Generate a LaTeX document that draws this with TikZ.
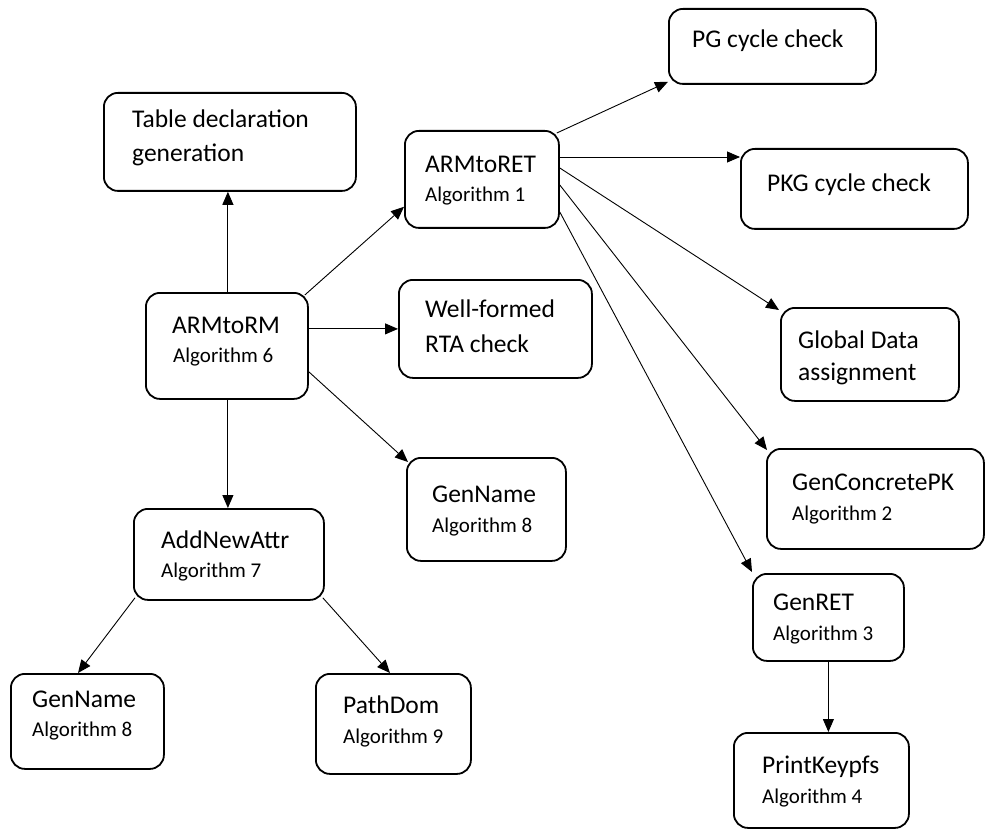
\documentclass[tikz,border=0pt]{standalone}
\usepackage{fontspec}
\setmainfont{Carlito}
\usetikzlibrary{arrows.meta,calc}
\begin{document}
\begin{tikzpicture}[x=1pt,y=-1pt,
  box/.style={draw, line width=1.8pt, rounded corners=14pt, anchor=north west, inner sep=0pt},
  conn/.style={draw, line width=0.9pt, -{Triangle[length=13pt,width=11pt]}},
  big/.style={font=\fontsize{25.5}{30}\selectfont, anchor=base west, inner sep=0pt},
  small/.style={font=\fontsize{21}{25}\selectfont, anchor=base west, inner sep=0pt}]
\useasboundingbox (0,0) rectangle (985,829);

% boxes
\node[box, minimum width=252, minimum height=98]  (table)   at (103,92)  {};
\node[box, minimum width=154, minimum height=97]  (armtoret) at (404,130) {};
\node[box, minimum width=207, minimum height=75]  (pg)      at (668,8)   {};
\node[box, minimum width=227, minimum height=80]  (pkg)     at (740,148) {};
\node[box, minimum width=162, minimum height=106] (armtorm) at (145,292) {};
\node[box, minimum width=193, minimum height=98]  (wf)      at (398,279) {};
\node[box, minimum width=178, minimum height=93]  (glob)    at (780,307) {};
\node[box, minimum width=159, minimum height=103] (gnameA)  at (406,457) {};
\node[box, minimum width=217, minimum height=100] (gcpk)    at (766,448) {};
\node[box, minimum width=190, minimum height=91]  (addnew)  at (133,508) {};
\node[box, minimum width=151, minimum height=87]  (genret)  at (752,573) {};
\node[box, minimum width=153, minimum height=95]  (gnameB)  at (10,673)  {};
\node[box, minimum width=155, minimum height=100] (pathdom) at (315,673) {};
\node[box, minimum width=175, minimum height=95]  (pkeyp)   at (733,732) {};

% labels
\node[big]   (tableA) at (132,128) {Table declaration};
\node[big]   (tableB) at (132,162) {generation};
\node[big]   (retA)   at (425,173) {ARMtoRET};
\node[small] (retB)   at (425,202) {Algorithm 1};
\node[big]   (pgA)    at (692,48)  {PG cycle check};
\node[big]   (pkgA)   at (767,192) {PKG cycle check};
\node[big]   (rmA)    at (172,333) {ARMtoRM};
\node[small] (rmB)    at (173,362) {Algorithm 6};
\node[big]   (wfA)    at (425,317) {Well-formed};
\node[big]   (wfB)    at (425,352) {RTA check};
\node[big]   (globA)  at (798,348) {Global Data};
\node[big]   (globB)  at (798,380) {assignment};
\node[big]   (gnAa)   at (432,502) {GenName};
\node[small] (gnAb)   at (432,532) {Algorithm 8};
\node[big]   (gcA)    at (792,490) {GenConcretePK};
\node[small] (gcB)    at (792,520) {Algorithm 2};
\node[big]   (anA)    at (161,548) {AddNewAttr};
\node[small] (anB)    at (161,577) {Algorithm 7};
\node[big]   (grA)    at (773,610) {GenRET};
\node[small] (grB)    at (773,640) {Algorithm 3};
\node[big]   (gnBa)   at (32,707)  {GenName};
\node[small] (gnBb)   at (32,736)  {Algorithm 8};
\node[big]   (pdA)    at (343,713) {PathDom};
\node[small] (pdB)    at (343,743) {Algorithm 9};
\node[big]   (pkA)    at (762,773) {PrintKeypfs};
\node[small] (pkB)    at (762,803) {Algorithm 4};

% connector end points
\coordinate (rmTop) at ($(armtorm.north)+(1,0)$);
\coordinate (rmBot) at ($(armtorm.south)+(1,0)$);
\coordinate (retPkg) at ($(armtoret.north east)+(0,27)$);

% connectors from ARMtoRM
\draw[conn] (rmTop) -- (rmTop |- table.south);
\draw[conn] ($(armtorm.north east)+(-4,3)$) -- ($(armtoret.south west)+(0,-22)$);
\draw[conn] (armtorm.east |- wf.west) -- (wf.west);
\draw[conn] ($(armtorm.south east)+(0,-28)$) -- ($(gnameA.north west)+(2,5)$);
\draw[conn] (rmBot) -- (rmBot |- addnew.north);

% connectors from ARMtoRET
\draw[conn] ($(armtoret.north east)+(-3,3)$) -- ($(pg.south west)+(0,-3)$);
\draw[conn] (retPkg) -- (retPkg -| pkg.west);
\draw[conn] ($(armtoret.north east)+(0,38)$) -- ($(glob.north west)+(-1,3)$);
\draw[conn] ($(armtoret.north east)+(0,55)$) -- ($(gcpk.north west)+(1,2)$);
\draw[conn] ($(armtoret.north east)+(0,82)$) -- ($(genret.north west)+(0,-1)$);

% lower connectors
\draw[conn] (genret.south) -- (genret.south |- pkeyp.north);
\draw[conn] ($(addnew.south west)+(2,-3)$) -- ($(gnameB.north west)+(68,0)$);
\draw[conn] ($(addnew.south east)+(-2,-3)$) -- ($(pathdom.north west)+(75,0)$);
\end{tikzpicture}
\end{document}
